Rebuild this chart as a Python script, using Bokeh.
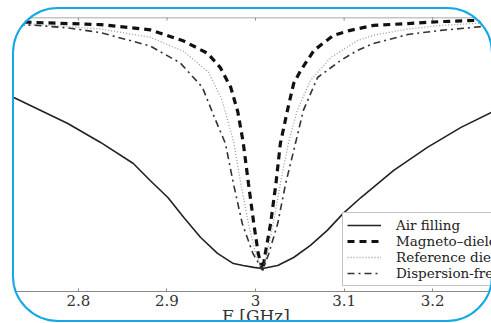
import math
from bokeh.plotting import figure
from bokeh.models import (Range1d, FixedTicker, Legend, LegendItem, Span,
                          InlineStyleSheet, GlobalInlineStyleSheet)
from bokeh.embed import file_html
from bokeh.resources import INLINE

# ---------------- data ----------------
# the picture is a crop: the plot runs a little past its right edge,
# so the axis (and its centred title) reaches 3.289 GHz
x_min, x_max = 2.712, 3.289
tick_values = [2.8, 2.9, 3.0, 3.1, 3.2]
tick_labels = ["2.8", "2.9", "3", "3.1", "3.2"]
x_label = "F [GHz]"

legend_labels = ["Air filling", "Magneto\u2013dielectric filling",
                 "Reference dielectric filling", "Dispersion-free filling"]

freq_air = [2.712, 2.727, 2.788, 2.825, 2.862, 2.881, 2.901, 2.919, 2.938, 2.957,
            2.975, 2.986, 2.998, 3.008, 3.025, 3.043, 3.062, 3.081, 3.099, 3.119,
            3.156, 3.194, 3.232, 3.267]
air = [0.735, 0.708, 0.613, 0.544, 0.467, 0.405, 0.343, 0.270, 0.197, 0.139,
       0.102, 0.095, 0.088, 0.084, 0.095, 0.124, 0.168, 0.223, 0.285, 0.343,
       0.442, 0.526, 0.599, 0.655]

freq_mag = [2.712, 2.749, 2.825, 2.881, 2.919, 2.946, 2.960, 2.972, 2.980, 2.986,
            2.992, 2.998, 3.003, 3.008, 3.011, 3.017, 3.023, 3.028, 3.036, 3.043,
            3.051, 3.066, 3.088, 3.107, 3.133, 3.172, 3.209, 3.246, 3.267]
mag = [0.985, 0.982, 0.974, 0.955, 0.914, 0.869, 0.818, 0.745, 0.655, 0.545,
       0.394, 0.248, 0.139, 0.077, 0.139, 0.248, 0.394, 0.540, 0.661, 0.759,
       0.807, 0.880, 0.935, 0.953, 0.971, 0.978, 0.985, 0.989, 0.989]

freq_ref = [2.712, 2.749, 2.825, 2.881, 2.919, 2.947, 2.962, 2.975, 2.983, 2.992,
            3.000, 3.008, 3.013, 3.020, 3.028, 3.037, 3.047, 3.062, 3.085, 3.115,
            3.133, 3.172, 3.209, 3.246, 3.267]
ref = [0.980, 0.976, 0.958, 0.928, 0.876, 0.800, 0.700, 0.550, 0.400, 0.248,
       0.139, 0.077, 0.139, 0.248, 0.394, 0.540, 0.661, 0.770, 0.854, 0.916,
       0.935, 0.958, 0.971, 0.978, 0.982]

freq_disp = [2.712, 2.749, 2.788, 2.825, 2.881, 2.915, 2.940, 2.953, 2.966, 2.975,
             2.985, 2.997, 3.008, 3.015, 3.025, 3.034, 3.045, 3.054, 3.070, 3.096,
             3.115, 3.133, 3.172, 3.209, 3.246, 3.267]
disp = [0.972, 0.972, 0.962, 0.945, 0.896, 0.834, 0.745, 0.640, 0.540, 0.394,
        0.248, 0.139, 0.077, 0.139, 0.248, 0.394, 0.540, 0.661, 0.781, 0.843,
        0.880, 0.905, 0.938, 0.953, 0.964, 0.971]

# ---------------- figure ----------------
FONT = "DejaVu Serif"
AXIS_GREY = "#8a8a8a"

# slightly larger than the 491x323 window on purpose (page overflow hidden):
# the reference picture is a crop of a bigger chart
p = figure(width=511, height=331, output_backend="svg", toolbar_location=None,
           x_range=Range1d(x_min, x_max), y_range=Range1d(0, 1),
           y_axis_location=None, min_border_left=0, min_border_right=0,
           min_border_top=17, min_border_bottom=40)
p.outline_line_color = None
p.grid.visible = False
p.background_fill_color = "white"
p.border_fill_color = "white"

ticker = FixedTicker(ticks=tick_values, minor_ticks=[])
xa = p.xaxis[0]
xa.ticker = ticker
xa.major_label_overrides = dict(zip(tick_values, tick_labels))
xa.axis_line_color = AXIS_GREY
xa.axis_line_width = 1.2
xa.major_tick_line_color = AXIS_GREY
xa.major_tick_in = 3
xa.major_tick_out = 0
xa.minor_tick_line_color = None
xa.major_label_standoff = 3
xa.major_label_text_font = FONT
xa.major_label_text_font_size = "15px"
xa.major_label_text_color = "#333333"
xa.axis_label = x_label
xa.axis_label_standoff = -3
xa.axis_label_text_font = FONT
xa.axis_label_text_font_size = "17px"
xa.axis_label_text_font_style = "normal"
xa.axis_label_text_color = "#333333"

# top frame line with small inward ticks
p.add_layout(Span(location=1.0, dimension="width", line_color=AXIS_GREY,
                  line_width=1.5))
p.ray(x=tick_values, y=[1.0] * len(tick_values), length=3, length_units="screen",
      angle=-math.pi / 2, line_color=AXIS_GREY, line_width=1)

r_air = p.line(freq_air, air, line_color="#222222", line_width=1.6)
r_mag = p.line(freq_mag, mag, line_color="#111111", line_width=3.2, line_dash="7 5")
r_ref = p.line(freq_ref, ref, line_color="#9a9a9a", line_width=1.3, line_dash="1 2")
r_disp = p.line(freq_disp, disp, line_color="#333333", line_width=1.6, line_dash="7 4 2 4")

legend = Legend(items=[LegendItem(label=legend_labels[0], renderers=[r_air]),
                       LegendItem(label=legend_labels[1], renderers=[r_mag]),
                       LegendItem(label=legend_labels[2], renderers=[r_ref]),
                       LegendItem(label=legend_labels[3], renderers=[r_disp])],
                location=(342, 5), label_text_font=FONT, label_text_font_size="13.5px",
                label_text_color="#222222", label_height=14, glyph_height=14,
                glyph_width=34, label_standoff=15, spacing=0, padding=4, margin=0,
                border_line_color="#888888", border_line_width=1.5,
                background_fill_color="white", background_fill_alpha=1)
p.add_layout(legend, "center")

# rounded blue frame of the picture (everything outside it is white)
p.stylesheets = [
    GlobalInlineStyleSheet(css="html, body { margin: 0; overflow: hidden; }"),
    InlineStyleSheet(css="""
:host::after {
  content: "";
  position: fixed;
  left: 12px; top: 7px; width: 481px; height: 315px;
  box-sizing: border-box;
  border: 2.5px solid #14a9e6;
  border-radius: 46px;
  box-shadow: 0 0 0 120px #ffffff;
  pointer-events: none;
  z-index: 1000;
}
"""),
]

open("out.html", "w").write(file_html(p, INLINE))
